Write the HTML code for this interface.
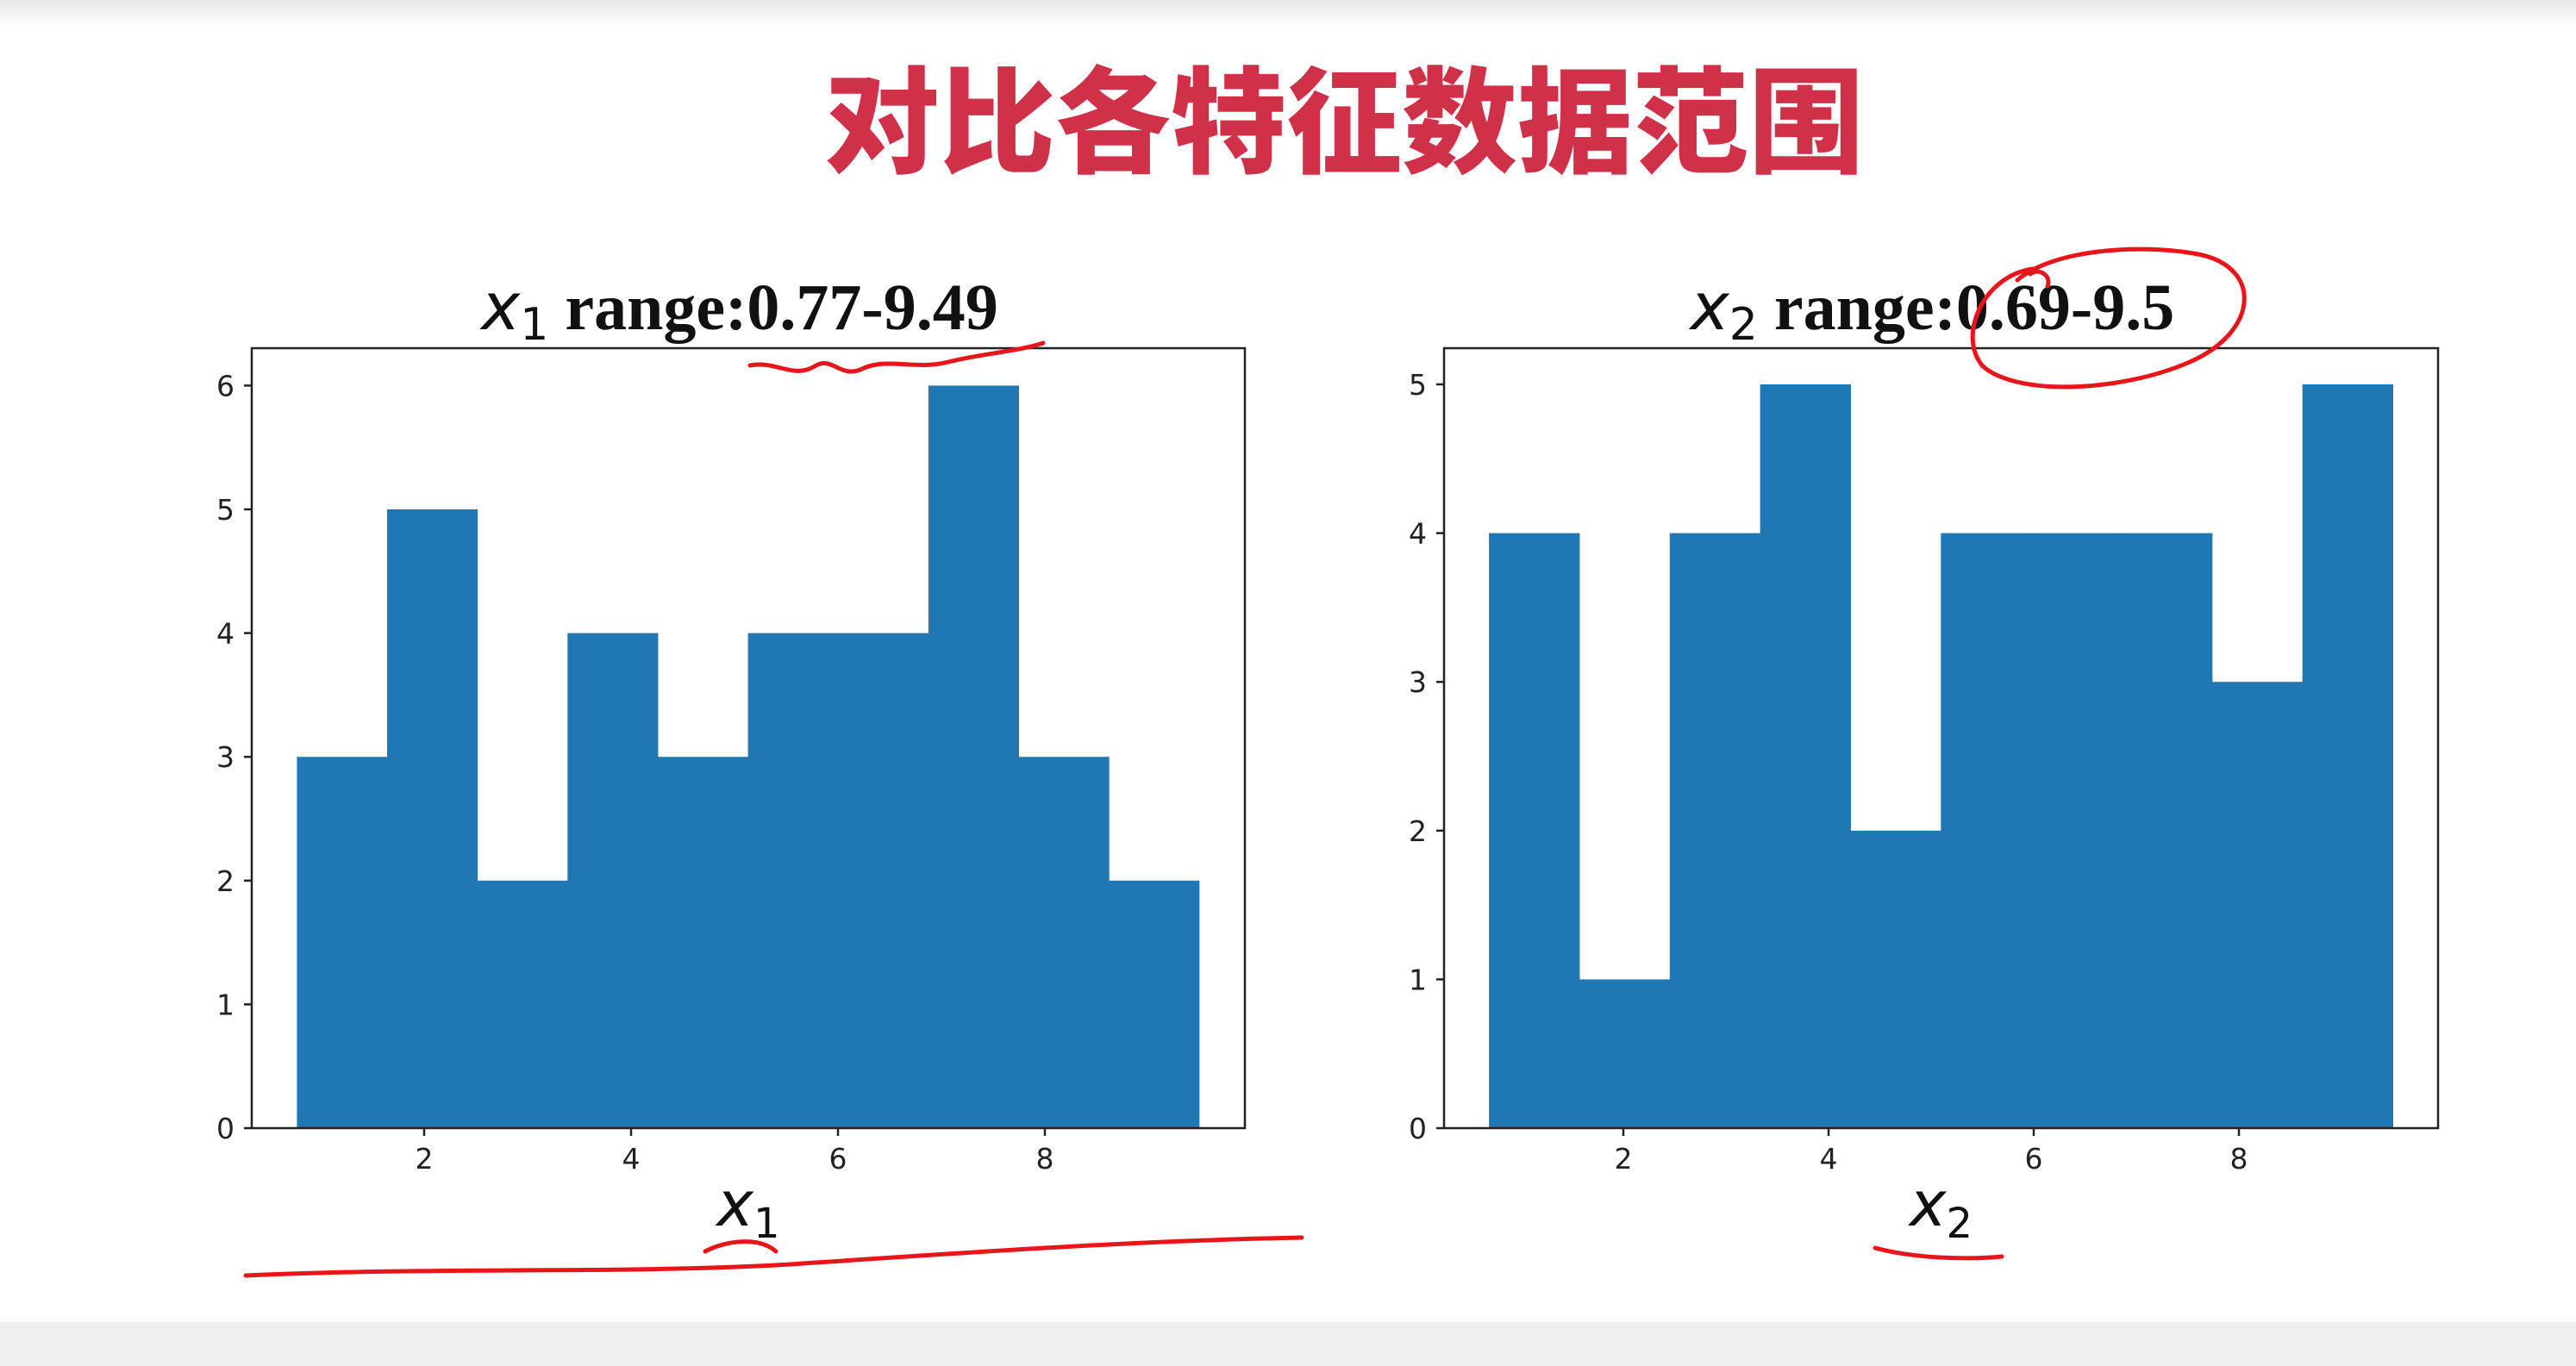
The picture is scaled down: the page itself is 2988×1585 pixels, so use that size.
<!DOCTYPE html>
<html><head><meta charset="utf-8">
<style>
html,body{margin:0;padding:0;background:#fff;}
body{width:2988px;height:1585px;overflow:hidden;position:relative;font-family:"Liberation Sans","Noto Sans CJK SC",sans-serif;}
</style></head>
<body>
<div style="position:absolute;left:0;top:0;width:2988px;height:30px;background:linear-gradient(#e6e6e6,#fff)"></div>
<div style="position:absolute;left:0;top:1534px;width:2988px;height:51px;background:#efefef"></div>
<div style="position:absolute;left:0;width:2988px;top:52px;text-align:center;font-family:'Noto Sans CJK SC',sans-serif;font-weight:900;font-size:134px;color:#cf3149;line-height:160px;padding-left:130px;box-sizing:border-box">对比各特征数据范围</div>
<svg id="chart" width="2988" height="1585" style="position:absolute;left:0;top:0"></svg>
<script>
const countsX1=[3,5,2,4,3,4,4,6,3,2];
const countsX2=[4,1,4,5,2,4,4,4,3,5];
const rangeX1=[0.77,9.49];
const rangeX2=[0.69,9.5];
const xTicks=[2,4,6,8];
const yTicksX1=[0,1,2,3,4,5,6];
const yTicksX2=[0,1,2,3,4,5];
const NS='http://www.w3.org/2000/svg';
const svg=document.getElementById('chart');
function mk(t,a,p){const e=document.createElementNS(NS,t);for(const k in a)e.setAttribute(k,a[k]);(p||svg).appendChild(e);return e;}
function panel(cfg){
  const g=mk('g',{});
  
  
  const L=cfg.left,R=cfg.right,T=404,B=1309;
  const sx=v=>cfg.x0+v*cfg.xu;
  const sy=v=>cfg.y0-v*cfg.yu;
  const n=cfg.counts.length,w=(cfg.range[1]-cfg.range[0])/n;
  cfg.counts.forEach((c,i)=>{
    const a=sx(cfg.range[0]+i*w),b=sx(cfg.range[0]+(i+1)*w);
    const r=mk('rect',{x:a,y:sy(c),width:b-a+0.5,height:sy(0)-sy(c),fill:'#1f77b4'},g);
    
    
  });
  const fr=mk('rect',{x:L,y:T,width:R-L,height:B-T,fill:'none',stroke:'#222',"stroke-width":2.5},g);
  
  
  cfg.yt.forEach(v=>{
    mk('line',{x1:L-9,x2:L,y1:sy(v),y2:sy(v),stroke:'#222',"stroke-width":2.5},g);
    const t=mk('text',{x:L-20,y:sy(v)+12,"text-anchor":'end',"font-size":33,fill:'#222',"font-family":'DejaVu Sans, sans-serif'},g);
    t.textContent=v;
    
    
  });
  xTicks.forEach(v=>{
    mk('line',{x1:sx(v),x2:sx(v),y1:B,y2:B+9,stroke:'#222',"stroke-width":2.5},g);
    const t=mk('text',{x:sx(v),y:B+47,"text-anchor":'middle',"font-size":33,fill:'#222',"font-family":'DejaVu Sans, sans-serif'},g);
    t.textContent=v;
    
    
  });
  const cx=(L+R)/2;
  const tt=mk('text',{x:cx-10,y:382,"text-anchor":'middle',"font-size":76,fill:'#111',"font-family":'Liberation Serif, serif',"font-weight":'bold'},g);
  tt.innerHTML='<tspan font-style="italic" font-weight="normal" font-family="DejaVu Sans, sans-serif">x</tspan><tspan font-size="52" dy="12" font-weight="normal" font-family="DejaVu Sans, sans-serif">'+cfg.sub+'</tspan><tspan dy="-12"> range:'+cfg.range[0]+'-'+cfg.range[1]+'</tspan>';
  
  
  const xl=mk('text',{x:cx,y:1422,"text-anchor":'middle',"font-size":72,fill:'#111',"font-family":'DejaVu Sans, sans-serif'},g);
  xl.innerHTML='<tspan font-style="italic">x</tspan><tspan font-size="48" dy="14">'+cfg.sub+'</tspan>';
  
  
}
panel({name:'histogram-x1',left:292,right:1444,x0:252,xu:120,y0:1309,yu:143.6,counts:countsX1,range:rangeX1,yt:yTicksX1,sub:'1'});
panel({name:'histogram-x2',left:1675,right:2828,x0:1645,xu:119,y0:1309,yu:172.6,counts:countsX2,range:rangeX2,yt:yTicksX2,sub:'2'});
const ann=[
 'M870 424 C900 418 920 440 945 425 C965 412 975 440 1000 428 C1030 414 1060 430 1100 420 C1140 410 1180 408 1210 398',
 'M2358 312 C2300 320 2270 390 2300 425 C2340 460 2460 455 2540 420 C2620 385 2625 310 2550 295 C2480 282 2380 290 2340 325',
 'M2355 318 C2365 310 2380 320 2375 332',
 'M285 1480 C500 1470 700 1478 900 1468 C1100 1455 1300 1440 1510 1436',
 'M818 1452 C840 1440 880 1434 900 1452',
 'M2175 1448 C2220 1460 2280 1462 2322 1458'
];
ann.forEach(d=>{
  const p=mk('path',{d:d,fill:'none',stroke:'#e8161b',"stroke-width":5,"stroke-linecap":'round'});
  
  
});
</script>
</body></html>
